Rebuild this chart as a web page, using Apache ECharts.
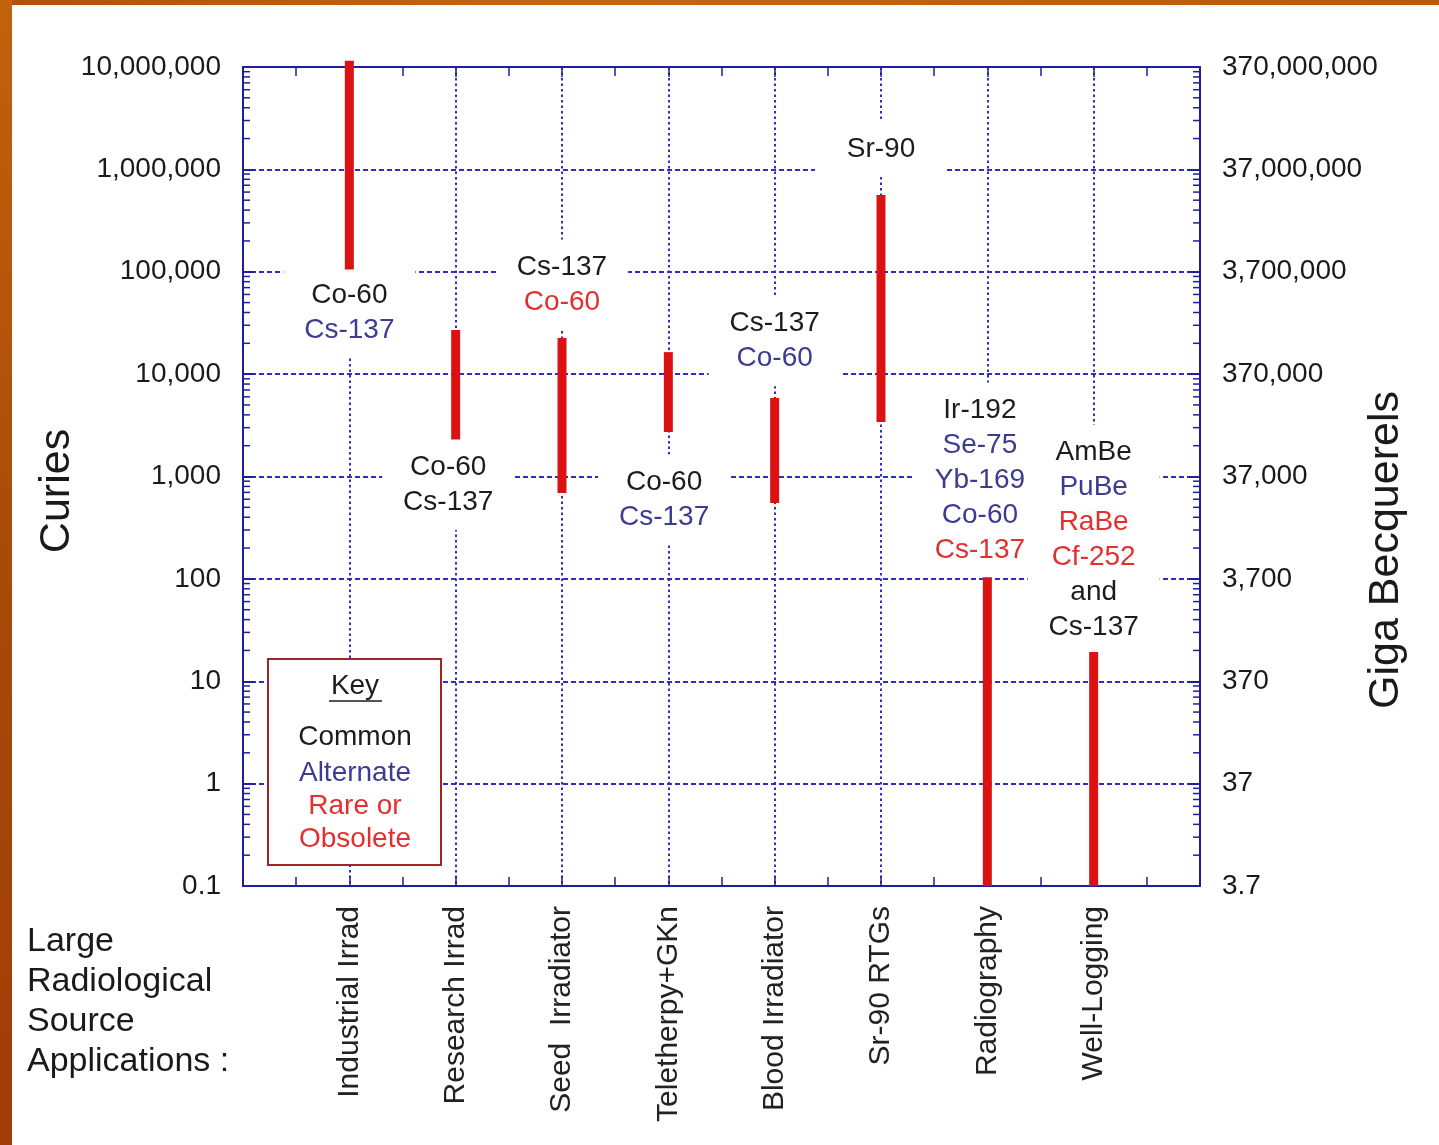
<!DOCTYPE html>
<html>
<head>
<meta charset="utf-8">
<title>Large Radiological Source Applications</title>
<script src="https://cdn.jsdelivr.net/npm/echarts@6.0.0/dist/echarts.min.js"></script>
<style>
html, body { margin: 0; padding: 0; background: #fff; }
#frameTop { position: absolute; left: 0; top: 0; width: 1439px; height: 5px;
  background: linear-gradient(90deg, #b4500a, #c4660e 40%, #b85a08); }
#frameLeft { position: absolute; left: 0; top: 0; width: 12px; height: 1145px;
  background: linear-gradient(180deg, #c2620c, #a84a08 50%, #a03c06); }
#chart { position: absolute; left: 0; top: 0; width: 1439px; height: 1145px; }
</style>
</head>
<body>
<div id="frameTop"></div>
<div id="frameLeft"></div>
<div id="chart"></div>
<script>
// applications along the bottom
var apps = ['Industrial Irrad', 'Research Irrad', 'Seed  Irradiator', 'Teletherpy+GKn',
            'Blood Irradiator', 'Sr-90 RTGs', 'Radiography', 'Well-Logging'];

// activity range of each application, in curies
var lowCi  = [105000, 2300, 690, 2720, 550, 3400, 0.1, 0.1];
var highCi = [11500000, 27000, 22500, 16400, 5850, 562000, 104, 19.3];

// isotope labels: text + kind (c = common, a = alternate, r = rare/obsolete)
var isotopes = [
  [['Co-60', 'c'], ['Cs-137', 'a']],
  [['Co-60', 'c'], ['Cs-137', 'c']],
  [['Cs-137', 'c'], ['Co-60', 'r']],
  [['Co-60', 'c'], ['Cs-137', 'a']],
  [['Cs-137', 'c'], ['Co-60', 'a']],
  [['Sr-90', 'c']],
  [['Ir-192', 'c'], ['Se-75', 'a'], ['Yb-169', 'a'], ['Co-60', 'a'], ['Cs-137', 'r']],
  [['AmBe', 'c'], ['PuBe', 'a'], ['RaBe', 'r'], ['Cf-252', 'r'], ['and', 'c'], ['Cs-137', 'c']]
];
// where each label block sits (application slot, curies)
var labelSlot = [1, 1.93, 3, 3.96, 5, 6, 6.93, 8];
var labelCi   = [40000, 826, 75000, 596, 21000, 1580000, 925, 240];

var minorSteps = [2, 3, 4, 5, 6, 7, 8, 9];
var GBQ_PER_CI = 37;

var FONT = '"Liberation Sans", Arial, sans-serif';
var AXIS_BLUE = '#1f1f9c';
var GRID_BLUE = '#2e2ec8';
var COLORS = { c: '#1c1c1c', a: '#3c3c92', r: '#e23030' };

var minorTicks = [];
for (var d = -1; d < 7; d++) {
  minorSteps.forEach(function (k) { minorTicks.push([0, k * Math.pow(10, d)]); });
}

function fmtCi(v) {
  if (v < 1) return '0.1';
  return Math.round(v).toLocaleString('en-US');
}
function fmtGBq(v) {
  var g = v * GBQ_PER_CI;
  if (g < 10) return '3.7';
  return Math.round(g).toLocaleString('en-US');
}

var rich = {};
Object.keys(COLORS).forEach(function (k) {
  rich[k] = { color: COLORS[k], fontSize: 28, lineHeight: 35, fontFamily: FONT, align: 'center' };
});

var labelData = isotopes.map(function (lines, i) {
  return {
    value: [labelSlot[i], labelCi[i]],
    text: lines.map(function (l) { return '{' + l[1] + '|' + l[0] + '}'; }).join('\n')
  };
});

var chart = echarts.init(document.getElementById('chart'));

function keyText(t, y, color) {
  return { type: 'text', x: 355, y: y, z: 21,
    style: { text: t, font: '28px ' + FONT, fill: color, textAlign: 'center', textVerticalAlign: 'middle' } };
}

var option = {
  animation: false,
  textStyle: { fontFamily: FONT },
  grid: { left: 243, right: 239, top: 67, bottom: 259, containLabel: false, outerBoundsMode: 'none' },
  xAxis: [
    {
      type: 'value', min: 0, max: 9, interval: 1, position: 'bottom',
      axisLine: { show: true, onZero: false, lineStyle: { color: AXIS_BLUE, width: 2 } },
      axisTick: { show: true, inside: true, length: 10, lineStyle: { color: AXIS_BLUE, width: 1.5 } },
      minorTick: { show: true, splitNumber: 2, length: 9, lineStyle: { color: AXIS_BLUE, width: 1.5 } },
      splitLine: { show: true, lineStyle: { color: GRID_BLUE, width: 2, type: [2.5, 3] } },
      axisLabel: {
        show: true, rotate: 90, margin: 20, fontSize: 30, color: '#222', fontFamily: FONT,
        formatter: function (v) { return apps[v - 1] || ''; }
      }
    },
    {
      type: 'value', min: 0, max: 9, interval: 1, position: 'top',
      axisLine: { show: true, onZero: false, lineStyle: { color: AXIS_BLUE, width: 2 } },
      axisTick: { show: true, inside: true, length: 10, lineStyle: { color: AXIS_BLUE, width: 1.5 } },
      minorTick: { show: true, splitNumber: 2, length: 9, lineStyle: { color: AXIS_BLUE, width: 1.5 } },
      splitLine: { show: false },
      axisLabel: { show: false }
    }
  ],
  yAxis: [
    {
      type: 'log', logBase: 10, min: 0.1, max: 10000000, position: 'left',
      axisLine: { show: true, onZero: false, lineStyle: { color: AXIS_BLUE, width: 2 } },
      axisTick: { show: true, inside: true, length: 11, lineStyle: { color: AXIS_BLUE, width: 2 } },
      splitLine: { show: true, lineStyle: { color: GRID_BLUE, width: 1.8, type: [5, 3] } },
      axisLabel: { margin: 22, fontSize: 28, color: '#1a1a1a', fontFamily: FONT, formatter: fmtCi }
    },
    {
      type: 'log', logBase: 10, min: 0.1, max: 10000000, position: 'right',
      axisLine: { show: true, onZero: false, lineStyle: { color: AXIS_BLUE, width: 2 } },
      axisTick: { show: true, inside: true, length: 11, lineStyle: { color: AXIS_BLUE, width: 2 } },
      splitLine: { show: false },
      axisLabel: { margin: 22, fontSize: 28, color: '#1a1a1a', fontFamily: FONT, formatter: fmtGBq }
    }
  ],
  series: [
    {
      // log minor ticks on both side axes
      type: 'custom', coordinateSystem: 'cartesian2d', xAxisIndex: 0, yAxisIndex: 0,
      silent: true, z: 4,
      data: minorTicks,
      renderItem: function (params, api) {
        var l = api.coord([0, api.value(1)]);
        var r = api.coord([9, api.value(1)]);
        var st = { stroke: AXIS_BLUE, lineWidth: 1.5 };
        return {
          type: 'group',
          children: [
            { type: 'line', shape: { x1: l[0], y1: l[1], x2: l[0] + 7, y2: l[1] }, style: st },
            { type: 'line', shape: { x1: r[0] - 7, y1: r[1], x2: r[0], y2: r[1] }, style: st }
          ]
        };
      }
    },
    {
      // isotope label blocks, white boxes over the grid
      type: 'scatter', xAxisIndex: 0, yAxisIndex: 0, symbolSize: 0, silent: true, z: 3,
      itemStyle: { opacity: 1 },
      data: labelData,
      label: {
        show: true, position: 'inside', opacity: 1,
        backgroundColor: '#fff', padding: [10, 10], width: 112, align: 'center',
        formatter: function (p) { return p.data.text; },
        rich: rich
      }
    },
    {
      // activity range bars
      type: 'custom', coordinateSystem: 'cartesian2d', xAxisIndex: 0, yAxisIndex: 0,
      silent: true, z: 5, clip: false,
      data: apps.map(function (a, i) { return [i + 1, lowCi[i], highCi[i]]; }),
      encode: { x: 0, y: [1, 2] },
      renderItem: function (params, api) {
        var top = api.coord([api.value(0), api.value(2)]);
        var bot = api.coord([api.value(0), api.value(1)]);
        return {
          type: 'rect',
          shape: { x: top[0] - 4.5, y: top[1], width: 9, height: bot[1] - top[1] },
          style: { fill: '#dc1212' }
        };
      }
    }
  ],
  graphic: [
    {
      type: 'text', x: 57, y: 491, rotation: Math.PI / 2, z: 10,
      style: { text: 'Curies', font: '43px ' + FONT, fill: '#1a1a1a',
               textAlign: 'center', textVerticalAlign: 'middle' }
    },
    {
      type: 'text', x: 1386, y: 550, rotation: Math.PI / 2, z: 10,
      style: { text: 'Giga Becquerels', font: '43px ' + FONT, fill: '#1a1a1a',
               textAlign: 'center', textVerticalAlign: 'middle' }
    },
    {
      type: 'text', x: 27, y: 922, z: 10,
      style: { text: 'Large\nRadiological\nSource\nApplications :', font: '34px ' + FONT,
               lineHeight: 40, fill: '#1a1a1a', textAlign: 'left', textVerticalAlign: 'top' }
    },
    { type: 'rect', z: 20, shape: { x: 268, y: 659, width: 173, height: 206 },
      style: { fill: '#fff', stroke: '#9c2626', lineWidth: 2 } },
    keyText('Key', 686, COLORS.c),
    { type: 'line', z: 21, shape: { x1: 329, y1: 701, x2: 382, y2: 701 },
      style: { stroke: COLORS.c, lineWidth: 1.5 } },
    keyText('Common', 737, COLORS.c),
    keyText('Alternate', 773, COLORS.a),
    keyText('Rare or', 806, COLORS.r),
    keyText('Obsolete', 839, COLORS.r)
  ]
};

chart.setOption(option);
</script>
</body>
</html>
